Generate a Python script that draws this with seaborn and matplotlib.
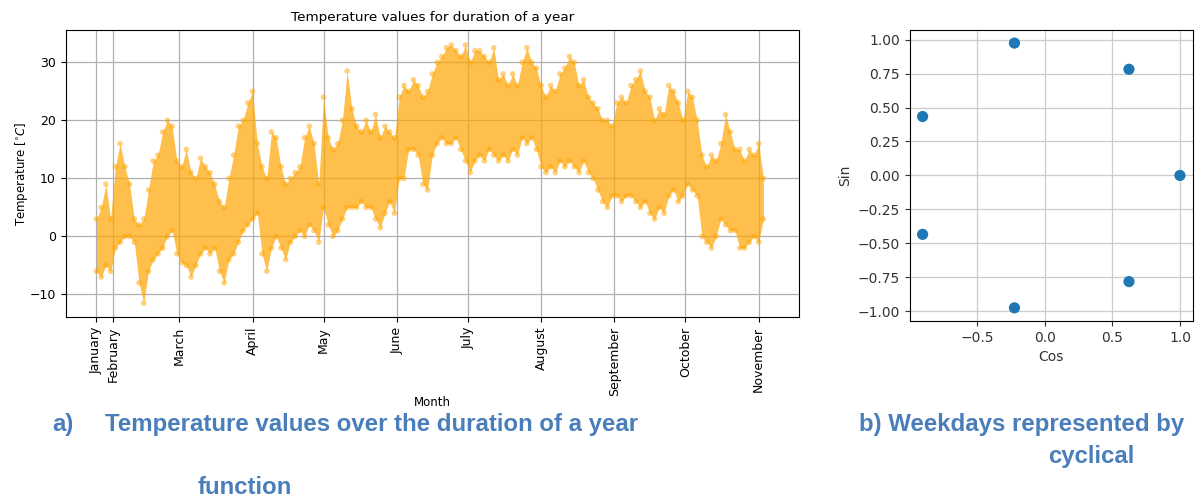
import numpy as np
import pandas as pd
import seaborn as sns
import matplotlib.pyplot as plt

# day of year for every 2-day window, with the low / high reading
days = list(range(25, 309, 2))
temp_low = [-6, -7, -5, -6, -2, -1, 0, 0, -1, -8, -11.5, -6, -4, -3, -2, 0, 1, -3, -4.5, -5,
            -7, -5, -3, -2, -3, -2, -6, -8, -4, -3, -1, 1, 2, 3, 4, -3, -6, -2, 0, -2,
            -4, -1, 0, 1, 0, 2, 1, -1, 5, 2, 0, 1, 3, 5, 5, 5, 6, 5, 5, 3,
            1.5, 4, 6, 4, 10, 10, 15, 15, 14, 9, 8, 14, 16, 17, 16, 16, 17, 15, 13, 11,
            13, 14, 13, 15, 14, 13, 14, 13, 15, 14, 17, 16, 17, 15, 12, 11, 12, 11, 13, 12,
            13, 12, 11, 13, 11, 10, 8, 6, 5, 7, 7, 6, 7, 7, 6, 5, 6, 4, 3, 5,
            4, 7, 8, 6, 7, 9, 8, 7, 0, -1, -2, 0, 3, 2, 1, 1, -2, -2, -1, 0,
            -1, 3]
temp_high = [3, 5, 9, 3, 12, 16, 12, 9, 3, 2, 3, 8, 13, 14, 18, 20, 19, 13, 12, 15,
             11, 10, 13.5, 12, 11, 9, 6, 5, 10, 14, 19, 20, 23, 25, 16, 12, 10, 18, 17, 12,
             9, 10, 11, 12, 17, 19, 16, 9, 24, 17, 15, 16, 20, 28.5, 22, 19, 18, 20, 18, 21,
             17, 19, 18, 17, 24, 26, 25, 27, 26, 24, 25, 28, 30, 31, 32.5, 33, 32, 31, 33, 30,
             32, 32, 31, 30, 32.5, 27, 28, 26, 28, 26, 30, 32.5, 30, 29, 26, 24, 26, 25, 28, 29,
             31, 30, 26, 27, 24, 23, 22, 20, 20, 19, 23, 24, 23, 26, 27, 28.5, 25, 24, 20, 22,
             21, 26, 25, 23, 20, 25, 24, 20, 14, 12, 14, 13, 16, 21, 18, 15, 15, 13, 15, 14,
             16, 10]

month_names = ["January", "February", "March", "April", "May", "June", "July",
               "August", "September", "October", "November"]
month_days = [25, 32, 60, 91, 121, 152, 182, 213, 244, 274, 305]

# weekdays on the unit circle
week_cos = [1.0, 0.6235, -0.2225, -0.901, -0.901, -0.2225, 0.6235]
week_sin = [0.0, 0.7818, 0.9749, 0.4339, -0.4339, -0.9749, -0.7818]

temps = pd.DataFrame({"day": days, "low": temp_low, "high": temp_high})
pts = pd.concat([temps[["day", "low"]].rename(columns={"low": "t"}),
                 temps[["day", "high"]].rename(columns={"high": "t"})])
week = pd.DataFrame({"Cos": week_cos, "Sin": week_sin})

fig = plt.figure(figsize=(11.97, 4.97), dpi=100)
ax1 = fig.add_axes([0.0549, 0.362, 0.6125, 0.578])
ax2 = fig.add_axes([0.760, 0.354, 0.2365, 0.586])

# left: temperature over the year
ax1.fill_between(temps["day"], temps["low"], temps["high"],
                 color="orange", alpha=0.7, linewidth=0)
sns.scatterplot(data=pts, x="day", y="t", color="orange", alpha=0.5, s=16,
                edgecolor="none", ax=ax1)
ax1.set_xticks(month_days)
ax1.set_xticklabels(month_names, rotation=90)
ax1.set_ylim(-13.9, 35.6)
ax1.set_xlim(12, 322)
ax1.grid(True, color="#b0b0b0", linewidth=0.9)
ax1.set_axisbelow(True)
ax1.tick_params(labelsize=9)
ax1.set_title("Temperature values for duration of a year", fontsize=9.7)
ax1.set_xlabel("Month", fontsize=8.5, labelpad=0)
ax1.set_ylabel(r"Temperature [$^{\circ}C$]", fontsize=8.5, labelpad=0)

# right: weekdays as cos / sin
sns.scatterplot(data=week, x="Cos", y="Sin", color="#1f77b4", s=65,
                edgecolor="none", ax=ax2)
ax2.grid(True, color="#cccccc", linewidth=0.9)
ax2.set_axisbelow(True)
ax2.tick_params(labelsize=10, colors="#333333")
ax2.set_xlabel("Cos", fontsize=10, color="#333333")
ax2.set_ylabel("Sin", fontsize=10, color="#333333")
ax2.set_yticks([-1.0, -0.75, -0.5, -0.25, 0.0, 0.25, 0.5, 0.75, 1.0])

blue = "#4a7ebb"
cap = dict(color=blue, fontsize=17.3, fontweight="bold", family="Liberation Sans",
           va="center")
fig.text(52 / 1197, 1 - 425 / 497, "a)", ha="left", **cap)
fig.text(105 / 1197, 1 - 425 / 497, "Temperature values over the duration of a year",
         ha="left", **cap)
fig.text(245 / 1197, 1 - 487 / 497, "function", ha="center", **cap)
fig.text(1022 / 1197, 1 - 425 / 497, "b) Weekdays represented by", ha="center", **cap)
fig.text(1091 / 1197, 1 - 456 / 497, "cyclical", ha="center", **cap)

fig.savefig("out.png", dpi=100)
